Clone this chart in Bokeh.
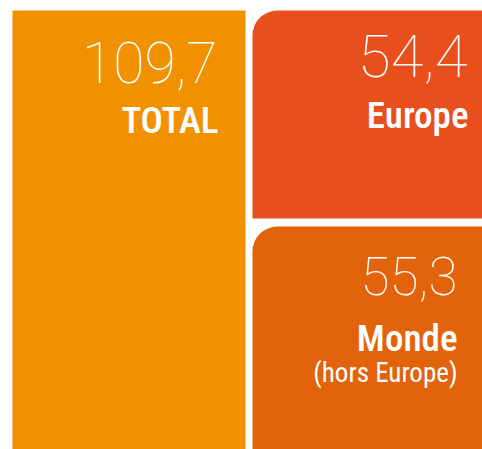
from bokeh.plotting import figure
from bokeh.models import Range1d
from bokeh.models.glyphs import Quad
from bokeh.core.properties import value
from bokeh.embed import file_html
from bokeh.resources import INLINE

# ---- data ----
names = ["TOTAL", "Europe", "Monde"]
sub_names = ["", "", "(hors Europe)"]
values = [109.7, 54.4, 55.3]
value_labels = ["109,7", "54,4", "55,3"]
colors = ["#F29100", "#E94E1D", "#E2630A"]

# ---- layout / style ----
W, H = 482, 449
PX_PER_COL = 240.0      # pixels per treemap column
PX_PER_UNIT = 3.897     # pixels per value unit (vertical)
LEFT_PAD, TOP_PAD = 12, 10
GAP_X, GAP_Y = 7, 8
RADIUS = 25

THIN = '"Roboto Thin", "Roboto Light", "Lato Hairline", "Lato Light", sans-serif'
COND_MED = '"Roboto Condensed Medium", "Roboto Condensed", "Liberation Sans Narrow", sans-serif'
COND = '"Roboto Condensed", "Liberation Sans Narrow", sans-serif'

total, europe, monde = values
x_start = -LEFT_PAD / PX_PER_COL
x_end = x_start + W / PX_PER_COL
y_end = total + TOP_PAD / PX_PER_UNIT
y_start = y_end - H / PX_PER_UNIT
gx = GAP_X / PX_PER_COL
gy = (GAP_Y / 2) / PX_PER_UNIT
floor = y_start - 1  # the view crops the bottom of the treemap

p = figure(width=W, height=H, output_backend="svg", toolbar_location=None,
           x_range=Range1d(x_start, x_end), y_range=Range1d(y_start, y_end),
           min_border=0, outline_line_color=None, background_fill_color="white",
           border_fill_color="white")
p.axis.visible = False
p.grid.visible = False

rects = [
    dict(left=0, right=1 - gx, top=total, bottom=floor, radius=0),
    dict(left=1, right=2 - gx, top=total, bottom=monde + gy, radius=RADIUS),
    dict(left=1, right=2 - gx, top=monde - gy, bottom=floor, radius=RADIUS),
]

has_radius = "border_radius" in Quad.properties()
for r, c in zip(rects, colors):
    g = p.quad(left=[r["left"]], right=[r["right"]], top=[r["top"]], bottom=[r["bottom"]],
               fill_color=c, line_color=None)
    if has_radius and r["radius"]:
        g.glyph.border_radius = (r["radius"], 0, 0, 0)

# label styling: (pad from right px, offset below top px, size)
num_style = [(28, 52, "57px"), (15, 45, "60px"), (25, 50, "53px")]
name_style = [(27, 110, "37px"), (14, 105, "37px"), (25, 112, "37px")]
sub_style = [None, None, (25, 147, "27px")]

for i, r in enumerate(rects):
    xr = min(r["right"], x_end)
    pad, dy, fs = num_style[i]
    p.text(x=[xr], y=[r["top"]], text=[value_labels[i]], x_offset=-pad, y_offset=dy,
           text_align="right", text_baseline="alphabetic", text_color="white",
           text_font=value(THIN), text_font_size=fs)
    pad, dy, fs = name_style[i]
    p.text(x=[xr], y=[r["top"]], text=[names[i]], x_offset=-pad, y_offset=dy,
           text_align="right", text_baseline="alphabetic", text_color="white",
           text_font=value(COND_MED), text_font_size=fs)
    if sub_names[i]:
        pad, dy, fs = sub_style[i]
        p.text(x=[xr], y=[r["top"]], text=[sub_names[i]], x_offset=-pad, y_offset=dy,
               text_align="right", text_baseline="alphabetic", text_color="white",
               text_font=value(COND), text_font_size=fs)

open("out.html", "w").write(file_html(p, INLINE))
